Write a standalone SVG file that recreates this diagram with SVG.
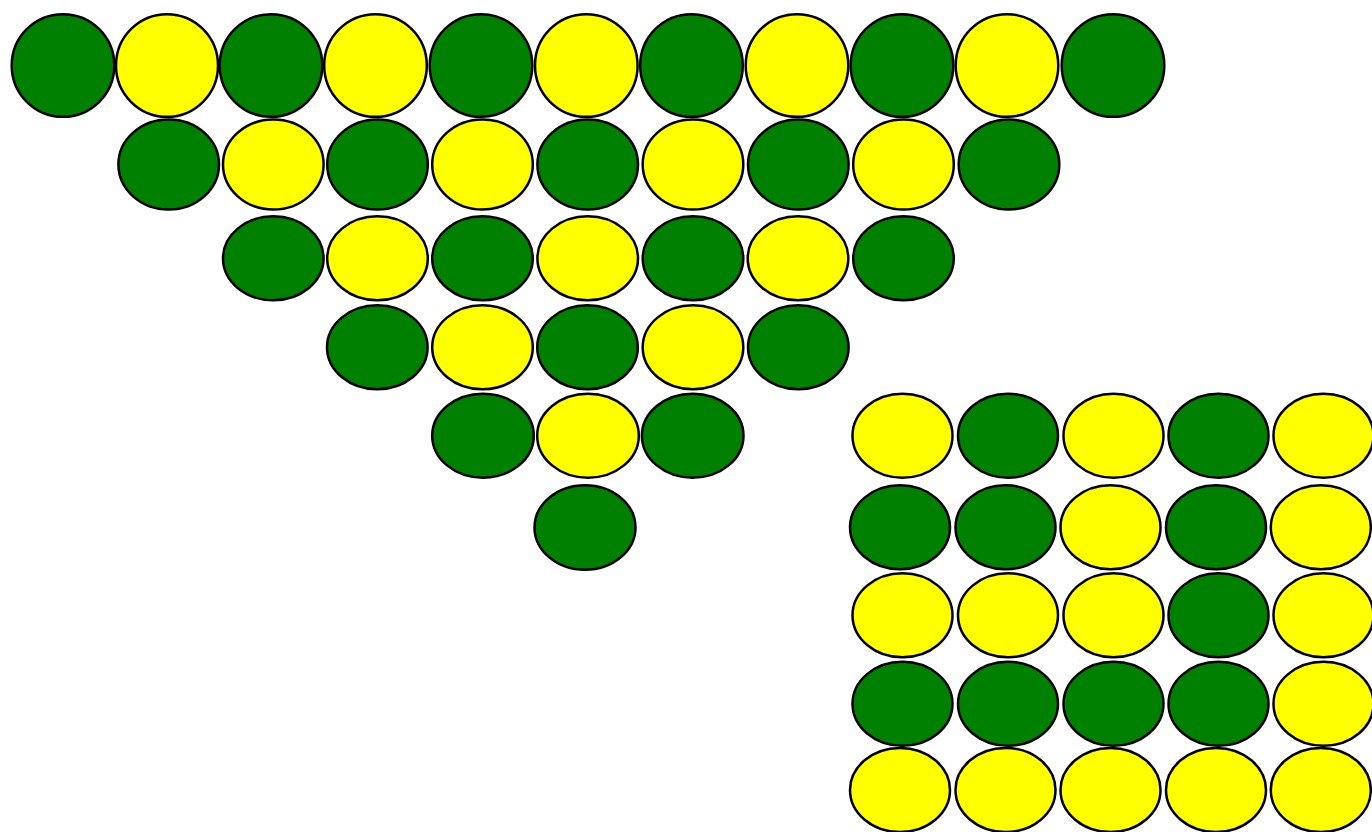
<svg xmlns="http://www.w3.org/2000/svg" width="1372" height="832" viewBox="0 0 1372 832">
<style>
.g{fill:#008000;stroke:#000;stroke-width:2.5}
.y{fill:#ffff00;stroke:#000;stroke-width:2.5}
</style>
<rect width="1372" height="832" fill="#fff"/>
<g id="triangle">
<g id="row1">
<ellipse id="t1-1" class="g" cx="63" cy="65.5" rx="51.3" ry="51.3"/>
<ellipse id="t1-2" class="y" cx="167" cy="65.5" rx="51" ry="51.3"/>
<ellipse id="t1-3" class="g" cx="271" cy="65.5" rx="51.3" ry="51.3"/>
<ellipse id="t1-4" class="y" cx="375.5" cy="65.5" rx="51.3" ry="51.3"/>
<ellipse id="t1-5" class="g" cx="481" cy="65.5" rx="51.3" ry="51.3"/>
<ellipse id="t1-6" class="y" cx="586.3" cy="65.5" rx="51.3" ry="51.3"/>
<ellipse id="t1-7" class="g" cx="691.5" cy="65.5" rx="51.3" ry="51.3"/>
<ellipse id="t1-8" class="y" cx="797" cy="65.5" rx="51.3" ry="51.3"/>
<ellipse id="t1-9" class="g" cx="902" cy="65.5" rx="51.3" ry="51.3"/>
<ellipse id="t1-10" class="y" cx="1007" cy="65.5" rx="51.3" ry="51.3"/>
<ellipse id="t1-11" class="g" cx="1113" cy="65.5" rx="51.3" ry="51.3"/>
</g>
<g id="row2">
<ellipse id="t2-1" class="g" cx="168.7" cy="164.5" rx="50.3" ry="45"/>
<ellipse id="t2-2" class="y" cx="273.3" cy="164.5" rx="50.3" ry="45"/>
<ellipse id="t2-3" class="g" cx="377.5" cy="164.5" rx="50.3" ry="45"/>
<ellipse id="t2-4" class="y" cx="482.5" cy="164.5" rx="50.3" ry="45"/>
<ellipse id="t2-5" class="g" cx="587.7" cy="164.5" rx="50.3" ry="45"/>
<ellipse id="t2-6" class="y" cx="693" cy="164.5" rx="50.3" ry="45"/>
<ellipse id="t2-7" class="g" cx="798.3" cy="164.5" rx="50.3" ry="45"/>
<ellipse id="t2-8" class="y" cx="903.5" cy="164.5" rx="50.3" ry="45"/>
<ellipse id="t2-9" class="g" cx="1009" cy="164.5" rx="50.3" ry="45"/>
</g>
<g id="row3">
<ellipse id="t3-1" class="g" cx="273.3" cy="258.3" rx="50.3" ry="42"/>
<ellipse id="t3-2" class="y" cx="377.5" cy="258.3" rx="50.3" ry="42"/>
<ellipse id="t3-3" class="g" cx="482.5" cy="258.3" rx="50.3" ry="42"/>
<ellipse id="t3-4" class="y" cx="587.7" cy="258.3" rx="50.3" ry="42"/>
<ellipse id="t3-5" class="g" cx="693" cy="258.3" rx="50.3" ry="42"/>
<ellipse id="t3-6" class="y" cx="798" cy="258.3" rx="50.3" ry="42"/>
<ellipse id="t3-7" class="g" cx="903.5" cy="258.3" rx="50.3" ry="42"/>
</g>
<g id="row4">
<ellipse id="t4-1" class="g" cx="377.3" cy="347.3" rx="50.3" ry="42"/>
<ellipse id="t4-2" class="y" cx="482.5" cy="347.3" rx="50.3" ry="42"/>
<ellipse id="t4-3" class="g" cx="587.5" cy="347.3" rx="50.3" ry="42"/>
<ellipse id="t4-4" class="y" cx="693" cy="347.3" rx="50.3" ry="42"/>
<ellipse id="t4-5" class="g" cx="798.3" cy="347.3" rx="50.3" ry="42"/>
</g>
<g id="row5">
<ellipse id="t5-1" class="g" cx="483" cy="435.7" rx="50.8" ry="42"/>
<ellipse id="t5-2" class="y" cx="588" cy="435.7" rx="50.8" ry="42"/>
<ellipse id="t5-3" class="g" cx="692.7" cy="435.7" rx="50.8" ry="42"/>
</g>
<g id="row6">
<ellipse id="t6-1" class="g" cx="585" cy="527.5" rx="50.5" ry="42.3"/>
</g>
</g>
<g id="grid">
<g id="grow1">
<ellipse id="s1-1" class="y" cx="902.5" cy="435.7" rx="50" ry="42"/>
<ellipse id="s1-2" class="g" cx="1008" cy="435.7" rx="50" ry="42"/>
<ellipse id="s1-3" class="y" cx="1113.5" cy="435.7" rx="50" ry="42"/>
<ellipse id="s1-4" class="g" cx="1218.5" cy="435.7" rx="50" ry="42"/>
<ellipse id="s1-5" class="y" cx="1323.5" cy="435.7" rx="50" ry="42"/>
</g>
<g id="grow2">
<ellipse id="s2-1" class="g" cx="900" cy="527.3" rx="50" ry="42"/>
<ellipse id="s2-2" class="g" cx="1005.5" cy="527.3" rx="50" ry="42"/>
<ellipse id="s2-3" class="y" cx="1110.5" cy="527.3" rx="50" ry="42"/>
<ellipse id="s2-4" class="g" cx="1216" cy="527.3" rx="50" ry="42"/>
<ellipse id="s2-5" class="y" cx="1320.8" cy="527.3" rx="50" ry="42"/>
</g>
<g id="grow3">
<ellipse id="s3-1" class="y" cx="902.5" cy="615.3" rx="50" ry="42"/>
<ellipse id="s3-2" class="y" cx="1008" cy="615.3" rx="50" ry="42"/>
<ellipse id="s3-3" class="y" cx="1113.5" cy="615.3" rx="50" ry="42"/>
<ellipse id="s3-4" class="g" cx="1218.5" cy="615.3" rx="50" ry="42"/>
<ellipse id="s3-5" class="y" cx="1323.5" cy="615.3" rx="50" ry="42"/>
</g>
<g id="grow4">
<ellipse id="s4-1" class="g" cx="902.5" cy="703.8" rx="50" ry="42"/>
<ellipse id="s4-2" class="g" cx="1008" cy="703.8" rx="50" ry="42"/>
<ellipse id="s4-3" class="g" cx="1113.5" cy="703.8" rx="50" ry="42"/>
<ellipse id="s4-4" class="g" cx="1218.5" cy="703.8" rx="50" ry="42"/>
<ellipse id="s4-5" class="y" cx="1323.5" cy="703.8" rx="50" ry="42"/>
</g>
<g id="grow5">
<ellipse id="s5-1" class="y" cx="900" cy="790" rx="50" ry="42"/>
<ellipse id="s5-2" class="y" cx="1005.5" cy="790" rx="50" ry="42"/>
<ellipse id="s5-3" class="y" cx="1110.5" cy="790" rx="50" ry="42"/>
<ellipse id="s5-4" class="y" cx="1216" cy="790" rx="50" ry="42"/>
<ellipse id="s5-5" class="y" cx="1320.8" cy="790" rx="50" ry="42"/>
</g>
</g>
</svg>
